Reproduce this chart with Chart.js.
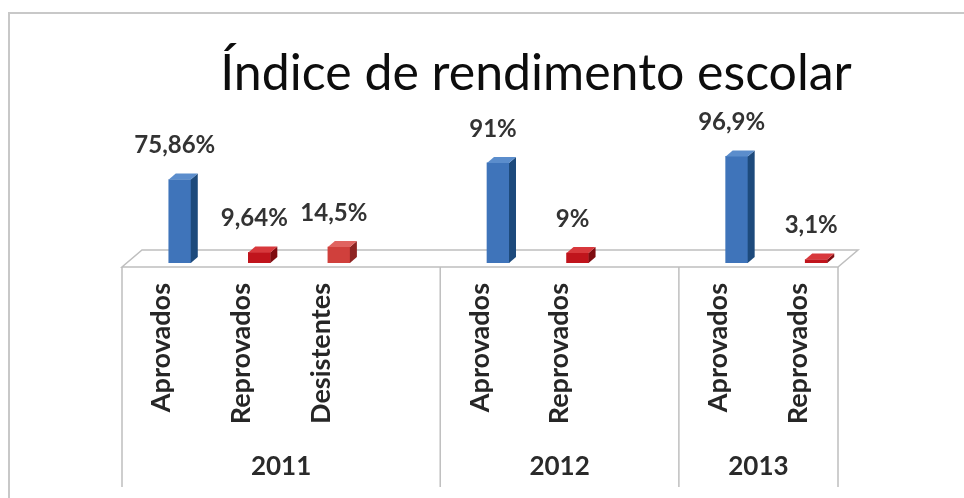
<!DOCTYPE html>
<html>
<head>
<meta charset="utf-8">
<script src="https://cdn.jsdelivr.net/npm/chart.js@4.4.0/dist/chart.umd.min.js"></script>
<style>
  html, body { margin: 0; padding: 0; background: #fff; }
  #wrap { width: 964px; height: 498px; }
</style>
</head>
<body>
<div id="wrap"><canvas id="chart"></canvas></div>
<script>
const TITLE = 'Índice de rendimento escolar';
const categories = ['Aprovados', 'Reprovados', 'Desistentes', '', 'Aprovados', 'Reprovados', '', 'Aprovados', 'Reprovados'];
const values = [75.86, 9.64, 14.5, null, 91, 9, null, 96.9, 3.1];
const years = ['2011', '2012', '2013'];
const yearSpans = [4, 3, 2];

// colours per category name: front, side, top
const COLORS = {
    'Aprovados': ['#3f74ba', '#1d4a7c', '#5b8dcc'],
    'Reprovados': ['#c0141c', '#7e0c10', '#d8383c'],
    'Desistentes': ['#d0403c', '#8e2422', '#e06460']
};

const FONT = 'Lato, "Open Sans", sans-serif';
const SHIFT = 18;   // labels/box sit left of the bars (3d depth)
const DX = 7, DY = 6;

function fmt(v) {
    return String(v).replace('.', ',') + '%';
}

const bar3d = {
    id: 'bar3d',
    beforeDraw(chart) {
        const ctx = chart.ctx;
        ctx.save();
        ctx.strokeStyle = '#c8c8c8';
        ctx.lineWidth = 2;
        ctx.beginPath();
        ctx.moveTo(9, 498);
        ctx.lineTo(9, 13);
        ctx.lineTo(964, 13);
        ctx.stroke();
        ctx.restore();
    },
    beforeDatasetsDraw(chart) {
        const ctx = chart.ctx;
        const xs = chart.scales.x;
        const base = chart.scales.y.getPixelForValue(0);
        const l = xs.left - SHIFT, r = xs.right - SHIFT;
        const fy = base + 4, by = base - 13;
        ctx.save();
        ctx.strokeStyle = '#bfbfbf';
        ctx.lineWidth = 1.5;
        ctx.beginPath();
        ctx.moveTo(l, fy);
        ctx.lineTo(r, fy);
        ctx.lineTo(r + 20, by);
        ctx.lineTo(l + 20, by);
        ctx.closePath();
        ctx.stroke();
        ctx.restore();
    },
    afterDatasetsDraw(chart) {
        const ctx = chart.ctx;
        const meta = chart.getDatasetMeta(0);
        ctx.save();
        meta.data.forEach((bar, i) => {
            if (values[i] == null) return;
            const c = COLORS[categories[i]];
            const w = bar.width;
            const x0 = bar.x - w / 2, x1 = bar.x + w / 2;
            const top = bar.y, base = bar.base;
            ctx.fillStyle = c[1];
            ctx.beginPath();
            ctx.moveTo(x1, top);
            ctx.lineTo(x1 + DX, top - DY);
            ctx.lineTo(x1 + DX, base - DY);
            ctx.lineTo(x1, base);
            ctx.closePath();
            ctx.fill();
            ctx.fillStyle = c[2];
            ctx.beginPath();
            ctx.moveTo(x0, top);
            ctx.lineTo(x0 + DX, top - DY);
            ctx.lineTo(x1 + DX, top - DY);
            ctx.lineTo(x1, top);
            ctx.closePath();
            ctx.fill();

            ctx.fillStyle = '#333333';
            ctx.font = 'bold 24px ' + FONT;
            ctx.textAlign = 'center';
            ctx.textBaseline = 'middle';
            ctx.fillText(fmt(values[i]), bar.x - 5, top - 34);
        });
        ctx.restore();
    },
    afterDraw(chart) {
        const ctx = chart.ctx;
        const xs = chart.scales.x;
        const base = chart.scales.y.getPixelForValue(0);
        const slot = (xs.right - xs.left) / categories.length;
        const fy = base + 4;
        ctx.save();
        ctx.strokeStyle = '#bfbfbf';
        ctx.lineWidth = 1.5;
        let pos = xs.left - SHIFT;
        const edges = [pos];
        yearSpans.forEach(n => { pos += n * slot; edges.push(pos); });
        ctx.beginPath();
        edges.forEach(x => {
            ctx.moveTo(x, fy);
            ctx.lineTo(x, 487);
        });
        ctx.stroke();

        ctx.fillStyle = '#2a2a2a';
        ctx.font = 'bold 26px ' + FONT;
        ctx.textAlign = 'center';
        ctx.textBaseline = 'middle';
        years.forEach((y, i) => {
            ctx.fillText(y, (edges[i] + edges[i + 1]) / 2, 467);
        });

        ctx.fillStyle = '#0d0d0d';
        ctx.font = '50px ' + FONT;
        ctx.textBaseline = 'alphabetic';
        ctx.fillText(TITLE, 536, 90);
        ctx.restore();
    }
};

new Chart(document.getElementById('chart'), {
    type: 'bar',
    data: {
        labels: categories,
        datasets: [{
            data: values,
            backgroundColor: categories.map(c => (COLORS[c] || ['#fff'])[0]),
            borderWidth: 0,
            barThickness: 22
        }]
    },
    options: {
        responsive: true,
        maintainAspectRatio: false,
        animation: false,
        layout: { padding: { top: 153, left: 140, right: 108, bottom: 0 } },
        plugins: {
            legend: { display: false },
            tooltip: { enabled: false }
        },
        scales: {
            x: {
                grid: { display: false, drawTicks: false },
                border: { display: false },
                ticks: {
                    color: '#262626',
                    font: { family: FONT, size: 27, weight: 'bold' },
                    minRotation: 90,
                    maxRotation: 90,
                    padding: 20,
                    labelOffset: -SHIFT,
                    autoSkip: false
                },
                afterFit(scale) { scale.height = 235; }
            },
            y: {
                display: false,
                min: 0,
                max: 100
            }
        }
    },
    plugins: [bar3d]
});
</script>
</body>
</html>
